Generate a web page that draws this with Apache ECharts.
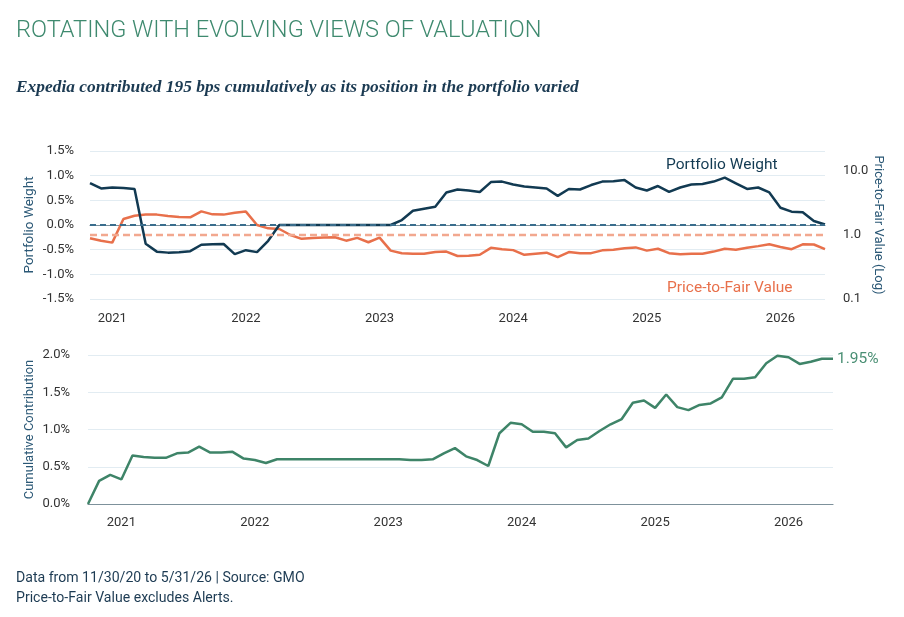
<!DOCTYPE html>
<html>
<head>
<meta charset="utf-8">
<script src="https://cdn.jsdelivr.net/npm/echarts@6/dist/echarts.min.js"></script>
<style>
  html, body { margin: 0; padding: 0; background: #fff; }
  #main { width: 904px; height: 617px; }
</style>
</head>
<body>
<div id="main"></div>
<script>
// month ends, Oct 2020 .. May 2026
const months = [
  '2020-10', '2020-11', '2020-12',
  '2021-01', '2021-02', '2021-03', '2021-04', '2021-05', '2021-06', '2021-07', '2021-08', '2021-09', '2021-10', '2021-11', '2021-12',
  '2022-01', '2022-02', '2022-03', '2022-04', '2022-05', '2022-06', '2022-07', '2022-08', '2022-09', '2022-10', '2022-11', '2022-12',
  '2023-01', '2023-02', '2023-03', '2023-04', '2023-05', '2023-06', '2023-07', '2023-08', '2023-09', '2023-10', '2023-11', '2023-12',
  '2024-01', '2024-02', '2024-03', '2024-04', '2024-05', '2024-06', '2024-07', '2024-08', '2024-09', '2024-10', '2024-11', '2024-12',
  '2025-01', '2025-02', '2025-03', '2025-04', '2025-05', '2025-06', '2025-07', '2025-08', '2025-09', '2025-10', '2025-11', '2025-12',
  '2026-01', '2026-02', '2026-03', '2026-04', '2026-05'
];
// top panel starts Nov 2020
const topMonths = months.slice(1);

// portfolio weight, % (relative)
const weight = [
  0.85, 0.74, 0.76, 0.75, 0.73, -0.38, -0.54, -0.56, -0.55, -0.53,
  -0.40, -0.39, -0.385, -0.59, -0.51, -0.55, -0.32, 0, 0, 0,
  0, 0, 0, 0, 0, 0, 0, 0, 0.10, 0.29,
  0.33, 0.37, 0.66, 0.72, 0.70, 0.67, 0.87, 0.88, 0.82, 0.78,
  0.76, 0.74, 0.59, 0.73, 0.72, 0.81, 0.88, 0.885, 0.91, 0.76,
  0.70, 0.79, 0.67, 0.76, 0.82, 0.83, 0.88, 0.96, 0.845, 0.73,
  0.76, 0.66, 0.35, 0.27, 0.26, 0.08, 0.01
];

// price-to-fair value (log axis)
const pfv = [
  0.89, 0.81, 0.76, 1.78, 2.0, 2.08, 2.08, 1.98, 1.91, 1.89,
  2.34, 2.1, 2.08, 2.23, 2.32, 1.43, 1.27, 1.24, 1.0, 0.87,
  0.90, 0.91, 0.92, 0.815, 0.90, 0.77, 0.91, 0.57, 0.52, 0.51,
  0.51, 0.54, 0.55, 0.47, 0.475, 0.49, 0.63, 0.60, 0.58, 0.49,
  0.51, 0.53, 0.45, 0.54, 0.52, 0.52, 0.575, 0.59, 0.62, 0.64,
  0.57, 0.61, 0.52, 0.50, 0.51, 0.51, 0.55, 0.61, 0.59, 0.63,
  0.67, 0.715, 0.65, 0.60, 0.715, 0.71, 0.60
];

// cumulative contribution, %
const contrib = [
  0, 0.31, 0.39, 0.33, 0.65, 0.63, 0.62, 0.62, 0.68, 0.69,
  0.77, 0.69, 0.69, 0.70, 0.61, 0.59, 0.55, 0.60, 0.60, 0.60,
  0.60, 0.60, 0.60, 0.60, 0.60, 0.60, 0.60, 0.60, 0.60, 0.59,
  0.59, 0.60, 0.68, 0.75, 0.64, 0.59, 0.51, 0.95, 1.09, 1.07,
  0.97, 0.97, 0.95, 0.76, 0.86, 0.88, 0.98, 1.07, 1.14, 1.36,
  1.39, 1.29, 1.47, 1.30, 1.26, 1.33, 1.35, 1.43, 1.68, 1.68,
  1.70, 1.89, 1.99, 1.97, 1.88, 1.91, 1.95, 1.95
];

const weightTicks = [-1.5, 1.5, 0.5];   // min, max, step
const pfvTicks = [0.1, 20.5];          // log range
const contribTicks = [0, 2, 0.5];

const NAVY = '#123a52';
const ORANGE = '#e8704b';
const GREEN = '#3e8468';
const GRID = '#e2ecf2';
const AXIS = '#7d919b';
const FONT = 'Roboto';

const chart = echarts.init(document.getElementById('main'), null, { renderer: 'canvas' });

function yearAxis(gridIndex, data, margin) {
  return {
    type: 'category',
    gridIndex: gridIndex,
    data: data,
    boundaryGap: false,
    axisTick: { show: false },
    axisLine: { lineStyle: { color: AXIS, width: 1.2 } },
    axisLabel: {
      interval: (idx, val) => val.slice(5) === '01',
      formatter: val => val.slice(0, 4),
      color: '#333',
      fontFamily: FONT,
      fontSize: 13,
      margin: margin
    },
    splitLine: { show: false }
  };
}

var option = {
  animation: false,
  backgroundColor: '#fff',
  textStyle: { fontFamily: FONT },
  title: [{
    text: 'ROTATING WITH EVOLVING VIEWS OF VALUATION',
    left: 16, top: 19, padding: 0,
    textStyle: { fontFamily: FONT, fontWeight: 300, fontSize: 23.6, color: '#3f8a6f' }
  }, {
    text: 'Expedia contributed 195 bps cumulatively as its position in the portfolio varied',
    left: 16, top: 79, padding: 0,
    textStyle: { fontFamily: 'Liberation Serif', fontStyle: 'italic', fontWeight: 'bold', fontSize: 17.4, color: '#1b3a52' }
  }, {
    text: 'Data from 11/30/20 to 5/31/26 | Source: GMO\nPrice-to-Fair Value excludes Alerts.',
    left: 16, top: 568, padding: 0,
    textStyle: { fontFamily: FONT, fontWeight: 'normal', fontSize: 14.1, lineHeight: 20, color: '#1d3b53' }
  }],
  graphic: [{
    type: 'text', left: 666, top: 157,
    style: { text: 'Portfolio Weight', fill: NAVY, font: '15.5px Roboto' }
  }, {
    type: 'text', left: 667, top: 280,
    style: { text: 'Price-to-Fair Value', fill: ORANGE, font: '15.5px Roboto' }
  }],
  grid: [
    { left: 90, width: 735, top: 151, height: 148 },
    { left: 88, width: 745, top: 355, height: 149 }
  ],
  xAxis: [yearAxis(0, topMonths, 13), yearAxis(1, months, 12)],
  yAxis: [{
    type: 'value',
    gridIndex: 0,
    min: weightTicks[0], max: weightTicks[1], interval: weightTicks[2],
    name: 'Portfolio Weight',
    nameLocation: 'middle',
    nameMoveOverlap: false,
    nameGap: 53,
    nameTextStyle: { color: '#2b5876', fontSize: 13.5, fontFamily: FONT },
    axisLine: { show: false },
    axisTick: { show: false },
    axisLabel: { formatter: v => v.toFixed(1) + '%', color: '#333', fontSize: 13, fontFamily: FONT, margin: 16 },
    splitLine: { lineStyle: { color: GRID, width: 1.2 } }
  }, {
    type: 'log',
    gridIndex: 0,
    position: 'right',
    logBase: 10,
    min: pfvTicks[0], max: pfvTicks[1],
    name: 'Price-to-Fair Value (Log)',
    nameLocation: 'middle',
    nameMoveOverlap: false,
    nameRotate: -90,
    nameGap: 47,
    nameTextStyle: { color: '#2b5876', fontSize: 13, fontFamily: FONT },
    axisLine: { show: false },
    axisTick: { show: false },
    axisLabel: {
      showMaxLabel: false,
      formatter: v => {
        const l = Math.log10(v);
        return Math.abs(l - Math.round(l)) < 1e-6 ? v.toFixed(1) : '';
      },
      color: '#333', fontSize: 13, fontFamily: FONT, margin: 18
    },
    splitLine: { show: false }
  }, {
    type: 'value',
    gridIndex: 1,
    min: contribTicks[0], max: contribTicks[1], interval: contribTicks[2],
    name: 'Cumulative Contribution',
    nameLocation: 'middle',
    nameMoveOverlap: false,
    nameGap: 52,
    nameTextStyle: { color: '#2b5876', fontSize: 13, fontFamily: FONT },
    axisLine: { show: false },
    axisTick: { show: false },
    axisLabel: { formatter: v => v.toFixed(1) + '%', color: '#333', fontSize: 13, fontFamily: FONT, margin: 18 },
    splitLine: { lineStyle: { color: GRID, width: 1.2 } }
  }],
  series: [{
    name: 'Price-to-Fair Value',
    type: 'line',
    xAxisIndex: 0, yAxisIndex: 1,
    data: pfv,
    showSymbol: false,
    lineStyle: { color: ORANGE, width: 2.5 },
    z: 3,
    markLine: {
      silent: true,
      symbol: 'none',
      label: { show: false },
      lineStyle: { color: '#f2a88f', type: [7, 4], width: 2.4 },
      data: [{ yAxis: 1 }]
    }
  }, {
    name: 'Portfolio Weight',
    type: 'line',
    xAxisIndex: 0, yAxisIndex: 0,
    data: weight,
    showSymbol: false,
    lineStyle: { color: NAVY, width: 2.5 },
    z: 4,
    markLine: {
      silent: true,
      symbol: 'none',
      label: { show: false },
      lineStyle: { color: '#3a6d8c', type: [6, 4], width: 2 },
      data: [{ yAxis: 0 }]
    }
  }, {
    name: 'Cumulative Contribution',
    type: 'line',
    xAxisIndex: 1, yAxisIndex: 2,
    data: contrib,
    showSymbol: false,
    lineStyle: { color: GREEN, width: 2.5 },
    endLabel: {
      show: true,
      formatter: p => p.value.toFixed(2) + '%',
      color: '#4a8f74',
      fontFamily: FONT,
      fontSize: 15.5,
      distance: 4
    }
  }]
};

chart.setOption(option);
</script>
</body>
</html>
